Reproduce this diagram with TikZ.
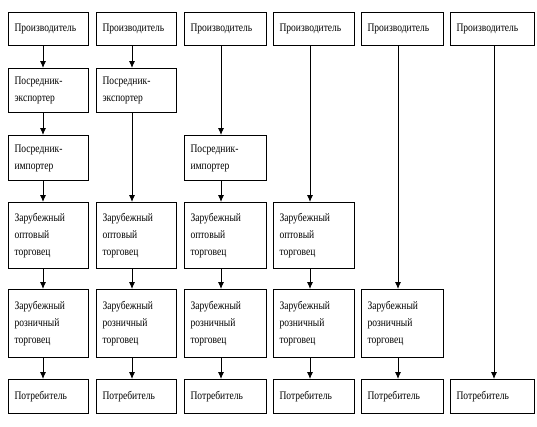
\documentclass[tikz,border=0pt]{standalone}
\usepackage{fontspec}
\setmainfont{Liberation Serif}[FakeStretch=0.83]
\usetikzlibrary{arrows.meta}
\begin{document}
\begin{tikzpicture}[x=1pt,y=-1pt,
  box/.style={draw, line width=1.1pt, rectangle, anchor=north west, align=left,
    inner xsep=6pt, inner ysep=0pt, font=\fontsize{11.5}{17}\selectfont},
  conn/.style={line width=0.9pt, -{Latex[length=7pt,width=6pt]}},
  cA/.style={text width=68pt}, cB/.style={text width=68pt}, cC/.style={text width=70pt},
  cD/.style={text width=69pt}, cE/.style={text width=70pt}, cF/.style={text width=72pt},
  rP/.style={minimum height=33pt}, rE/.style={minimum height=44pt},
  rI/.style={minimum height=45pt}, rW/.style={minimum height=66pt},
  rR/.style={minimum height=68pt}, rC/.style={minimum height=34pt}]
\useasboundingbox (0,0) rectangle (537,426);
% column axes for connectors
\coordinate (x1) at (43,0);
\coordinate (x2) at (132,0);
\coordinate (x3) at (221,0);
\coordinate (x4) at (310,0);
\coordinate (x5) at (398,0);
\coordinate (x6) at (494,0);
% column 1
\node[box,cA,rP] (p1) at (8,12) {Производитель};
\node[box,cA,rE] (e1) at (8,68) {Посредник-\\экспортер};
\node[box,cA,rI] (i1) at (8,135) {Посредник-\\импортер};
\node[box,cA,rW] (w1) at (8,202) {Зарубежный\\оптовый\\торговец};
\node[box,cA,rR] (r1) at (8,289) {Зарубежный\\розничный\\торговец};
\node[box,cA,rC] (c1) at (8,379) {Потребитель};
% column 2
\node[box,cB,rP] (p2) at (96,12) {Производитель};
\node[box,cB,rE] (e2) at (96,68) {Посредник-\\экспортер};
\node[box,cB,rW] (w2) at (96,202) {Зарубежный\\оптовый\\торговец};
\node[box,cB,rR] (r2) at (96,289) {Зарубежный\\розничный\\торговец};
\node[box,cB,rC] (c2) at (96,379) {Потребитель};
% column 3
\node[box,cC,rP] (p3) at (184,12) {Производитель};
\node[box,cC,rI] (i3) at (184,135) {Посредник-\\импортер};
\node[box,cC,rW] (w3) at (184,202) {Зарубежный\\оптовый\\торговец};
\node[box,cC,rR] (r3) at (184,289) {Зарубежный\\розничный\\торговец};
\node[box,cC,rC] (c3) at (184,379) {Потребитель};
% column 4
\node[box,cD,rP] (p4) at (273,12) {Производитель};
\node[box,cD,rW] (w4) at (273,202) {Зарубежный\\оптовый\\торговец};
\node[box,cD,rR] (r4) at (273,289) {Зарубежный\\розничный\\торговец};
\node[box,cD,rC] (c4) at (273,379) {Потребитель};
% column 5
\node[box,cE,rP] (p5) at (361,12) {Производитель};
\node[box,cE,rR] (r5) at (361,289) {Зарубежный\\розничный\\торговец};
\node[box,cE,rC] (c5) at (361,379) {Потребитель};
% column 6
\node[box,cF,rP] (p6) at (450,12) {Производитель};
\node[box,cF,rC] (c6) at (450,379) {Потребитель};
% connectors
\draw[conn] (p1.south -| x1) -- (e1.north -| x1);
\draw[conn] (e1.south -| x1) -- (i1.north -| x1);
\draw[conn] (i1.south -| x1) -- (w1.north -| x1);
\draw[conn] (w1.south -| x1) -- (r1.north -| x1);
\draw[conn] (r1.south -| x1) -- (c1.north -| x1);
\draw[conn] (p2.south -| x2) -- (e2.north -| x2);
\draw[conn] (e2.south -| x2) -- (w2.north -| x2);
\draw[conn] (w2.south -| x2) -- (r2.north -| x2);
\draw[conn] (r2.south -| x2) -- (c2.north -| x2);
\draw[conn] (p3.south -| x3) -- (i3.north -| x3);
\draw[conn] (i3.south -| x3) -- (w3.north -| x3);
\draw[conn] (w3.south -| x3) -- (r3.north -| x3);
\draw[conn] (r3.south -| x3) -- (c3.north -| x3);
\draw[conn] (p4.south -| x4) -- (w4.north -| x4);
\draw[conn] (w4.south -| x4) -- (r4.north -| x4);
\draw[conn] (r4.south -| x4) -- (c4.north -| x4);
\draw[conn] (p5.south -| x5) -- (r5.north -| x5);
\draw[conn] (r5.south -| x5) -- (c5.north -| x5);
\draw[conn] (p6.south -| x6) -- (c6.north -| x6);
\end{tikzpicture}
\end{document}
